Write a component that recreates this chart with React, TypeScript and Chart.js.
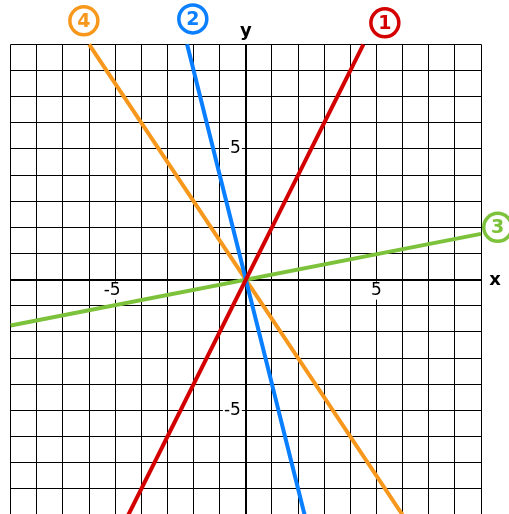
import React, { useEffect, useRef } from "react";
import { Chart, registerables } from "chart.js";

Chart.register(...registerables);

// Lines: endpoints in data units
const lineNames = ["1", "2", "3", "4"];
const lineColors = ["#d40000", "#0a7fff", "#7dc23b", "#f7981d"];
const lineStartX = [-4.5, -2.25, -9, -6];
const lineStartY = [-9, 9, -1.75, 9];
const lineEndX = [4.5, 2.25, 9, 6];
const lineEndY = [9, -9, 1.75, -9];

// Circled number labels (data units)
const labelX = [5.32, -2.03, 9.64, -6.2];
const labelY = [9.82, 9.97, 2.0, 9.9];

// Axis tick labels
const xTickLabels = [-5, 5];
const yTickLabels = [5, -5];
const axisMin = -9;
const axisMax = 9;

const FONT = "'DejaVu Sans', sans-serif";

const overlayPlugin = {
  id: "overlay",
  beforeDatasetsDraw(chart: any) {
    const { ctx, scales } = chart;
    const xs = scales.x;
    const ys = scales.y;
    const ox = xs.getPixelForValue(0);
    const oy = ys.getPixelForValue(0);
    ctx.save();
    ctx.font = `17px ${FONT}`;
    ctx.textBaseline = "middle";
    const digitW = ctx.measureText("5").width;
    // x tick labels: digit centered under the tick, minus hangs left
    xTickLabels.forEach((v) => {
      const text = String(v);
      const w = ctx.measureText(text).width;
      const right = xs.getPixelForValue(v) + digitW / 2;
      const cy = oy + 11;
      ctx.fillStyle = "#fff";
      ctx.fillRect(right - w - 1, cy - 9, w + 2, 18);
      ctx.fillStyle = "#000";
      ctx.textAlign = "right";
      ctx.fillText(text, right, cy);
    });
    // y tick labels: right aligned left of axis
    yTickLabels.forEach((v) => {
      const text = String(v);
      const w = ctx.measureText(text).width;
      const right = ox - 5;
      const cy = ys.getPixelForValue(v);
      ctx.fillStyle = "#fff";
      ctx.fillRect(right - w - 1, cy - 9, w + 2, 18);
      ctx.fillStyle = "#000";
      ctx.textAlign = "right";
      ctx.fillText(text, right, cy);
    });
    ctx.restore();
  },
  afterDraw(chart: any) {
    const { ctx, scales } = chart;
    const xs = scales.x;
    const ys = scales.y;
    const ox = xs.getPixelForValue(0);
    const oy = ys.getPixelForValue(0);
    ctx.save();
    // axis letters
    ctx.font = `bold 18px ${FONT}`;
    ctx.fillStyle = "#000";
    ctx.textAlign = "center";
    ctx.textBaseline = "middle";
    ctx.fillText("y", ox, ys.top - 13);
    ctx.fillText("x", xs.right + 14, oy + 1);
    // circled numbers
    lineNames.forEach((name, i) => {
      const cx = xs.getPixelForValue(labelX[i]);
      const cy = ys.getPixelForValue(labelY[i]);
      ctx.strokeStyle = lineColors[i];
      ctx.lineWidth = 3.5;
      ctx.beginPath();
      ctx.arc(cx, cy, 14, 0, Math.PI * 2);
      ctx.stroke();
      ctx.fillStyle = lineColors[i];
      ctx.font = `bold 19px ${FONT}`;
      ctx.fillText(name, cx, cy + 1);
    });
    ctx.restore();
  },
};

export default function App() {
  const ref = useRef<HTMLCanvasElement | null>(null);
  useEffect(() => {
    if (!ref.current) return;
    const gridWidth = (c: any) => (c.tick && c.tick.value === 0 ? 2 : 1);
    const chart = new Chart(ref.current, {
      type: "scatter",
      data: {
        datasets: lineNames.map((n, i) => ({
          label: n,
          data: [
            { x: lineStartX[i], y: lineStartY[i] },
            { x: lineEndX[i], y: lineEndY[i] },
          ],
          showLine: true,
          borderColor: lineColors[i],
          backgroundColor: lineColors[i],
          borderWidth: 4,
          pointRadius: 0,
          pointHoverRadius: 0,
          clip: false as any,
        })),
      },
      options: {
        animation: false,
        responsive: false,
        devicePixelRatio: 1,
        layout: { padding: { left: 10.7, right: 28, top: 44.3, bottom: 0 } },
        plugins: { legend: { display: false }, tooltip: { enabled: false } },
        scales: {
          x: {
            type: "linear",
            min: axisMin,
            max: axisMax,
            ticks: { display: false, stepSize: 1 },
            grid: { color: "#000", lineWidth: gridWidth, drawTicks: false },
            border: { display: false },
          },
          y: {
            type: "linear",
            min: axisMin,
            max: axisMax,
            ticks: { display: false, stepSize: 1 },
            grid: { color: "#000", lineWidth: gridWidth, drawTicks: false },
            border: { display: false },
          },
        },
      },
      plugins: [overlayPlugin],
    });
    return () => chart.destroy();
  }, []);
  return (
    <div
      style={{
        position: "absolute",
        left: 0,
        top: 0,
        width: 509,
        height: 514,
        overflow: "hidden",
        background: "#fff",
      }}
    >
      <canvas ref={ref} width={509} height={515} style={{ display: "block", width: 509, height: 515 }} />
    </div>
  );
}
